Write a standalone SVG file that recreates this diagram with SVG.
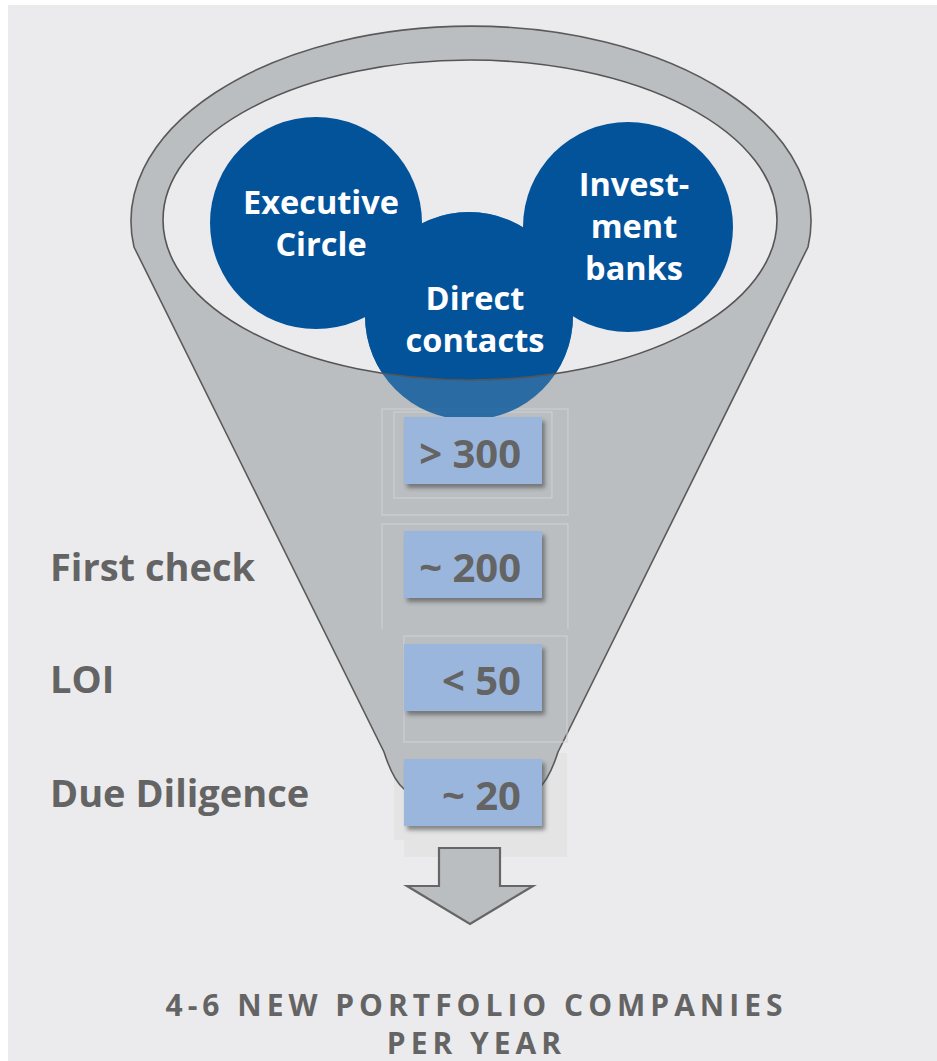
<svg xmlns="http://www.w3.org/2000/svg" width="937" height="1061" viewBox="0 0 937 1061">
<style>
.lbl{font-family:"Open Sans","Liberation Sans",sans-serif;font-weight:bold;fill:#646464;font-size:38px}
.num{font-family:"Open Sans","Liberation Sans",sans-serif;font-weight:bold;fill:#646464;font-size:40px;text-anchor:end}
.ct{font-family:"Open Sans","Liberation Sans",sans-serif;font-weight:bold;fill:#ffffff;font-size:32.5px;text-anchor:middle}
.foot{font-family:"Open Sans","Liberation Sans",sans-serif;font-weight:bold;fill:#646464;font-size:30px;text-anchor:middle;letter-spacing:5px}
.box{fill:#9BB6DC;filter:url(#sh)}
.faint{fill:none;stroke:#D0D2D4;stroke-width:1}
.blue{fill:#03539B}
</style>
<defs>
<filter id="sh" x="-10%" y="-10%" width="130%" height="140%">
<feDropShadow dx="3" dy="4" stdDeviation="2" flood-color="#444" flood-opacity="0.6"/>
</filter>
<clipPath id="inner"><ellipse cx="470" cy="220" rx="307" ry="160"/></clipPath>
</defs>
<rect x="0" y="0" width="937" height="1061" fill="#ffffff"/>
<rect x="8" y="5" width="929" height="1056" fill="#EBEBED"/>
<g id="shade">
<rect x="394" y="753" width="173" height="87" fill="#E4E4E5"/>
<rect x="404" y="760" width="163" height="97" fill="#E4E4E5"/>
</g>
<g id="funnel">
<path d="M134,247 A340,195 0 1 1 808,247 L558,752 Q549,780 538,789 L404,789 Q393,780 384,752 Z" fill="#BBBEC1" stroke="#5a5a5a" stroke-width="1.6"/>
<ellipse cx="470" cy="220" rx="307" ry="160" fill="#EBEBED"/>
</g>
<g id="faint-frames">
<rect class="faint" x="382" y="409" width="186" height="106"/>
<rect class="faint" x="394" y="412" width="158" height="86"/>
<path class="faint" d="M382,629 V524 H568 V629"/>
<rect class="faint" x="404" y="636" width="163" height="106"/>
</g>
<g id="direct-contacts">
<circle cx="469" cy="316" r="104" fill="#03539B" opacity="0.78"/>
</g>
<g clip-path="url(#inner)">
<circle id="executive-circle" class="blue" cx="316" cy="223" r="106"/>
<circle id="investment-banks" class="blue" cx="628" cy="227" r="105"/>
<circle class="blue" cx="469" cy="316" r="104"/>
</g>
<ellipse cx="470" cy="220" rx="307" ry="160" fill="none" stroke="#555" stroke-width="1.6"/>
<g id="circle-labels">
<text class="ct" x="321" y="214">Executive</text>
<text class="ct" x="321" y="256">Circle</text>
<text class="ct" x="475" y="310">Direct</text>
<text class="ct" x="475" y="352">contacts</text>
<text class="ct" x="634" y="196">Invest-</text>
<text class="ct" x="634" y="238">ment</text>
<text class="ct" x="634" y="280">banks</text>
</g>
<g id="box-300"><rect class="box" x="404" y="417" width="138" height="67"/><text class="num" x="521" y="468">&gt; 300</text></g>
<g id="box-200"><rect class="box" x="404" y="531" width="138" height="67"/><text class="num" x="521" y="582">~ 200</text></g>
<g id="box-50"><rect class="box" x="404" y="644" width="138" height="67"/><text class="num" x="521" y="695">&lt; 50</text></g>
<g id="box-20"><rect class="box" x="404" y="759" width="138" height="67"/><text class="num" x="521" y="810">~ 20</text></g>
<g id="stage-labels">
<text class="lbl" x="50" y="581">First check</text>
<text class="lbl" x="50" y="693">LOI</text>
<text class="lbl" x="50" y="807">Due Diligence</text>
</g>
<g id="arrow">
<path d="M439,848 H500 V886 H533 L470,924 L407,886 H439 Z" fill="#BBBEC1" stroke="#666" stroke-width="2.2"/>
</g>
<g id="result">
<text class="foot" x="476.5" y="1016">4-6 NEW PORTFOLIO COMPANIES</text>
<text class="foot" x="476.5" y="1054">PER YEAR</text>
</g>
</svg>
